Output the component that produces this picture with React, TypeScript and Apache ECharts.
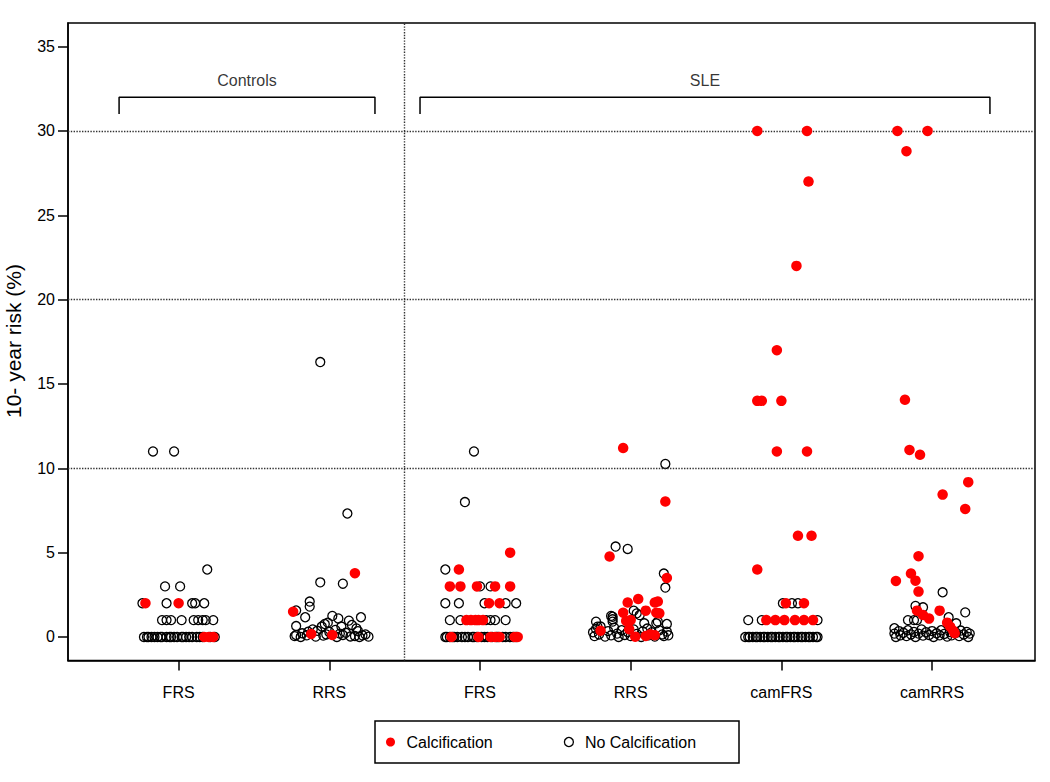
import React, { useEffect, useRef } from "react";
import * as echarts from "echarts";

// ---- Data (category index offset "dx" = horizontal jitter, value = 10-year risk %) ----
const categories = ["FRS", "RRS", "FRS", "RRS", "camFRS", "camRRS"];
const yTicks = [0, 5, 10, 15, 20, 25, 30, 35];
const gridValues = [10, 20, 30];
const dividerX = 2.5;

const ctrlFRSCalc = [[-0.22, 2], [0.0, 2], [0.17, 0], [0.2, 0], [0.23, 0]];
const ctrlFRSNone = [
  [-0.17, 11], [-0.03, 11], [0.19, 4], [-0.09, 3], [0.01, 3],
  [-0.24, 2], [-0.08, 2], [0.09, 2], [0.11, 2], [0.17, 2],
  [-0.11, 1], [-0.08, 1], [-0.05, 1], [0.02, 1], [0.1, 1], [0.13, 1], [0.16, 1], [0.18, 1], [0.23, 1],
  [-0.23, 0], [-0.21, 0], [-0.2, 0], [-0.18, 0], [-0.16, 0], [-0.14, 0], [-0.12, 0], [-0.11, 0],
  [-0.08, 0], [-0.06, 0], [-0.05, 0], [-0.03, 0], [-0.01, 0], [0.02, 0], [0.03, 0], [0.05, 0],
  [0.07, 0], [0.09, 0], [0.12, 0], [0.14, 0], [0.16, 0], [0.21, 0], [0.24, 0],
];

const ctrlRRSCalc = [[0.17, 3.78], [-0.24, 1.5], [-0.12, 0.18], [0.02, 0.12]];
const ctrlRRSNone = [
  [-0.06, 16.3], [0.12, 7.32], [-0.06, 3.24], [0.09, 3.16], [-0.13, 2.1], [-0.13, 1.8],
  [-0.22, 1.57], [-0.16, 1.17], [-0.22, 0.65],
  [0.02, 1.25], [0.06, 1.1], [0.13, 0.97], [0.21, 1.17], [-0.05, 0.62], [-0.03, 0.77],
  [-0.01, 0.85], [0.08, 0.62], [0.15, 0.71], [0.18, 0.51],
  [-0.08, 0.37], [-0.14, 0.31], [-0.18, 0.22], [-0.22, 0.12],
  [-0.23, 0.05], [-0.19, 0], [-0.15, 0.1], [-0.09, 0.02], [-0.04, 0.08], [0.05, 0], [0.09, 0.12],
  [0.14, 0.03], [0.17, 0.06], [0.2, 0], [0.22, 0.1], [0.26, 0.02],
  [-0.11, 0.45], [0.0, 0.3], [0.04, 0.42], [0.11, 0.25], [0.19, 0.35], [0.24, 0.15], [-0.02, 0.15], [0.07, 0.2],
];

const sleFRSCalc = [
  [0.2, 5], [-0.14, 4], [-0.2, 3], [-0.13, 3], [-0.02, 3], [0.1, 3], [0.2, 3],
  [0.06, 2], [0.13, 2], [-0.09, 1], [-0.06, 1], [-0.03, 1], [-0.01, 1], [0.02, 1],
  [-0.19, 0], [-0.01, 0], [0.07, 0], [0.1, 0], [0.13, 0], [0.23, 0], [0.25, 0],
];
const sleFRSNone = [
  [-0.04, 11], [-0.1, 8], [-0.23, 4], [0.0, 3], [0.07, 3],
  [-0.23, 2], [-0.14, 2], [0.03, 2], [0.17, 2], [0.24, 2],
  [-0.2, 1], [-0.13, 1], [0.04, 1], [0.07, 1], [0.1, 1], [0.17, 1],
  [-0.23, 0], [-0.22, 0], [-0.2, 0], [-0.18, 0], [-0.17, 0], [-0.15, 0], [-0.12, 0], [-0.1, 0],
  [-0.08, 0], [-0.05, 0], [-0.04, 0], [-0.02, 0], [0.01, 0], [0.03, 0], [0.05, 0], [0.08, 0],
  [0.11, 0], [0.12, 0], [0.15, 0], [0.17, 0], [0.2, 0], [0.22, 0], [0.24, 0],
];

const sleRRSCalc = [
  [-0.05, 11.2], [0.23, 8.03], [-0.14, 4.77], [0.24, 3.5], [-0.02, 2.04], [0.05, 2.25],
  [0.16, 2.04], [0.18, 2.1], [-0.05, 1.44], [0.1, 1.56], [0.17, 1.44], [0.19, 1.4],
  [-0.03, 0.95], [0.0, 1.0], [-0.01, 0.46], [-0.2, 0.37], [0.03, 0.02], [0.1, 0.06],
  [0.13, 0.16], [0.16, 0.1],
];
const sleRRSNone = [
  [0.23, 10.26], [-0.1, 5.36], [-0.02, 5.22], [0.22, 3.76], [0.23, 2.93],
  [-0.23, 0.91], [-0.13, 1.25], [-0.12, 1.05], [0.02, 1.56], [0.04, 1.4], [0.09, 0.81],
  [0.17, 0.81], [0.24, 0.77], [-0.12, 1.2], [-0.12, 0.91], [-0.22, 0.61], [0.06, 1.3], [0.18, 0.91],
  [-0.25, 0.28], [-0.24, 0.05], [-0.23, 0.48], [-0.21, 0.15], [-0.2, 0.62], [-0.17, 0.02],
  [-0.15, 0.35], [-0.13, 0.1], [-0.11, 0.55], [-0.09, 0.2], [-0.08, 0.0], [-0.06, 0.4],
  [-0.04, 0.12], [-0.02, 0.3], [0.0, 0.05], [0.02, 0.45], [0.04, 0.18], [0.07, 0.0],
  [0.08, 0.33], [0.11, 0.5], [0.12, 0.1], [0.14, 0.28], [0.16, 0.02], [0.19, 0.4],
  [0.21, 0.15], [0.22, 0.05], [0.24, 0.32], [0.25, 0.1],
];

const camFRSCalc = [
  [-0.16, 30], [0.17, 30], [0.18, 27], [0.1, 22], [-0.03, 17], [-0.16, 14], [-0.13, 14],
  [0.0, 14], [-0.03, 11], [0.17, 11], [0.11, 6], [0.2, 6], [-0.16, 4], [0.03, 2], [0.15, 2],
  [-0.1, 1], [-0.04, 1], [0.02, 1], [0.09, 1], [0.15, 1], [0.21, 1],
];
const camFRSNone = [
  [0.01, 2], [0.07, 2], [0.11, 2], [-0.22, 1], [-0.13, 1], [0.24, 1],
  [-0.24, 0], [-0.22, 0], [-0.21, 0], [-0.19, 0], [-0.17, 0], [-0.16, 0], [-0.14, 0], [-0.12, 0],
  [-0.11, 0], [-0.09, 0], [-0.07, 0], [-0.06, 0], [-0.04, 0], [-0.02, 0], [-0.01, 0], [0.01, 0],
  [0.03, 0], [0.04, 0], [0.06, 0], [0.08, 0], [0.09, 0], [0.11, 0], [0.13, 0], [0.14, 0],
  [0.16, 0], [0.18, 0], [0.19, 0], [0.21, 0], [0.23, 0], [0.24, 0],
];

const camRRSCalc = [
  [-0.23, 30], [-0.03, 30], [-0.17, 28.8], [-0.18, 14.06], [-0.15, 11.09], [-0.08, 10.8],
  [0.24, 9.18], [0.07, 8.44], [0.22, 7.59], [-0.09, 4.79], [-0.24, 3.32], [-0.14, 3.76],
  [-0.11, 3.34], [-0.09, 2.69], [0.05, 1.56], [-0.1, 1.56], [-0.06, 1.3], [-0.02, 1.09],
  [0.1, 0.85], [0.12, 0.61], [0.14, 0.37], [0.15, 0.22],
];
const camRRSNone = [
  [0.07, 2.65], [0.22, 1.46], [-0.11, 1.84], [-0.06, 1.76], [-0.16, 1.0], [-0.12, 1.0],
  [-0.1, 1.0], [0.11, 1.17], [0.16, 0.81], [-0.25, 0.52],
  [-0.25, 0.2], [-0.24, 0.0], [-0.22, 0.35], [-0.21, 0.1], [-0.19, 0.25], [-0.17, 0.05],
  [-0.16, 0.4], [-0.14, 0.15], [-0.12, 0.3], [-0.11, 0.0], [-0.09, 0.2], [-0.07, 0.45],
  [-0.06, 0.08], [-0.04, 0.28], [-0.02, 0.12], [0.0, 0.35], [0.01, 0.0], [0.03, 0.22],
  [0.05, 0.1], [0.06, 0.4], [0.08, 0.18], [0.1, 0.02], [0.12, 0.3], [0.13, 0.1],
  [0.16, 0.25], [0.18, 0.05], [0.19, 0.38], [0.21, 0.15], [0.23, 0.3], [0.24, 0.0], [0.25, 0.2],
];

const calcGroups = [ctrlFRSCalc, ctrlRRSCalc, sleFRSCalc, sleRRSCalc, camFRSCalc, camRRSCalc];
const noneGroups = [ctrlFRSNone, ctrlRRSNone, sleFRSNone, sleRRSNone, camFRSNone, camRRSNone];

// bracket annotations (in data units)
const brackets = [
  { label: "Controls", from: 0.605, to: 2.303 },
  { label: "SLE", from: 2.602, to: 6.384 },
];
const bracketTop = 32;
const bracketTip = 31;
const bracketLabelY = 33;

const FONT = "'Liberation Sans', Arial, Helvetica, sans-serif";

function toPoints(groups: number[][][]) {
  const out: number[][] = [];
  groups.forEach((g, i) => g.forEach(([dx, v]) => out.push([i + 1 + dx, v])));
  return out;
}

export default function App() {
  const ref = useRef<HTMLDivElement>(null);
  useEffect(() => {
    const chart = echarts.init(ref.current!, null, { renderer: "svg" });
    const catIdx = categories.map((_, i) => i + 1);
    const bracketSeries = brackets.map((b) => ({
      type: "line",
      silent: true,
      symbol: "none",
      z: 3,
      lineStyle: { color: "#000", width: 1.5 },
      data: [
        [b.from, bracketTip],
        [b.from, bracketTop],
        [b.to, bracketTop],
        [b.to, bracketTip],
      ],
    }));
    const option: any = {
      animation: false,
      backgroundColor: "#fff",
      textStyle: { fontFamily: FONT },
      grid: {
        left: 68,
        right: 15,
        top: 23,
        bottom: 121.4,
        show: true,
        borderColor: "#000",
        borderWidth: 1.5,
        backgroundColor: "transparent",
      },
      xAxis: {
        type: "value",
        min: 0.266,
        max: 6.683,
        splitLine: { show: false },
        axisLine: { show: true, onZero: false, lineStyle: { color: "#000", width: 1.5 } },
        axisTick: { show: true, length: 10, customValues: catIdx, lineStyle: { color: "#000", width: 1.5 } },
        axisLabel: {
          customValues: catIdx,
          formatter: (v: number) => categories[Math.round(v) - 1] ?? "",
          margin: 24,
          fontSize: 16,
          color: "#000",
          fontFamily: FONT,
        },
      },
      yAxis: {
        type: "value",
        min: -1.4,
        max: 36.4,
        splitLine: { show: false },
        axisLine: { show: true, onZero: false, lineStyle: { color: "#000", width: 1.5 } },
        axisTick: { show: true, length: 10, customValues: yTicks, lineStyle: { color: "#000", width: 1.5 } },
        axisLabel: {
          customValues: yTicks,
          margin: 13,
          fontSize: 16,
          color: "#000",
          fontFamily: FONT,
        },
      },
      legend: {
        left: 386,
        top: 734,
        padding: 0,
        itemWidth: 22,
        itemHeight: 9,
        itemGap: 71,
        selectedMode: false,
        textStyle: { fontSize: 16, color: "#000", fontFamily: FONT },
        data: [
          { name: "Calcification", icon: "circle", itemStyle: { color: "#ff0000", borderWidth: 0 } },
          {
            name: "No Calcification",
            icon: "circle",
            itemStyle: { color: "rgba(0,0,0,0)", borderColor: "#000", borderWidth: 1.3 },
          },
        ],
      },
      graphic: [
        {
          type: "rect",
          shape: { x: 375, y: 721, width: 364, height: 42 },
          style: { fill: "none", stroke: "#000", lineWidth: 1.5 },
        },
        {
          type: "text",
          x: 13,
          y: 341,
          rotation: Math.PI / 2,
          style: {
            text: "10- year risk (%)",
            fontSize: 21,
            fontFamily: FONT,
            fill: "#000",
            align: "center",
            verticalAlign: "middle",
          },
        },
      ],
      series: [
        {
          ...bracketSeries[0],
          markLine: {
            silent: true,
            symbol: ["none", "none"],
            label: { show: false },
            lineStyle: { type: "dotted", color: "#333", width: 1.4 },
            data: [
              ...gridValues.map((v) => ({ yAxis: v })),
              { xAxis: dividerX },
            ],
          },
        },
        bracketSeries[1],
        {
          type: "scatter",
          silent: true,
          symbolSize: 0,
          z: 3,
          label: {
            show: true,
            position: "inside",
            formatter: (p: any) => p.data.name,
            fontSize: 16,
            color: "#000",
            fontFamily: FONT,
          },
          data: brackets.map((b) => ({ name: b.label, value: [(b.from + b.to) / 2, bracketLabelY] })),
        },
        {
          name: "No Calcification",
          type: "scatter",
          symbol: "circle",
          symbolSize: 9,
          z: 4,
          itemStyle: { color: "rgba(0,0,0,0)", borderColor: "#000", borderWidth: 1.3, opacity: 1 },
          data: toPoints(noneGroups),
        },
        {
          name: "Calcification",
          type: "scatter",
          symbol: "circle",
          symbolSize: 10.5,
          z: 5,
          itemStyle: { color: "#ff0000", opacity: 1 },
          data: toPoints(calcGroups),
        },
      ],
    };
    chart.setOption(option);
    return () => chart.dispose();
  }, []);
  return (
    <div
      ref={ref}
      style={{ position: "fixed", left: 0, top: 0, width: 1050, height: 782, background: "#fff" }}
    />
  );
}
